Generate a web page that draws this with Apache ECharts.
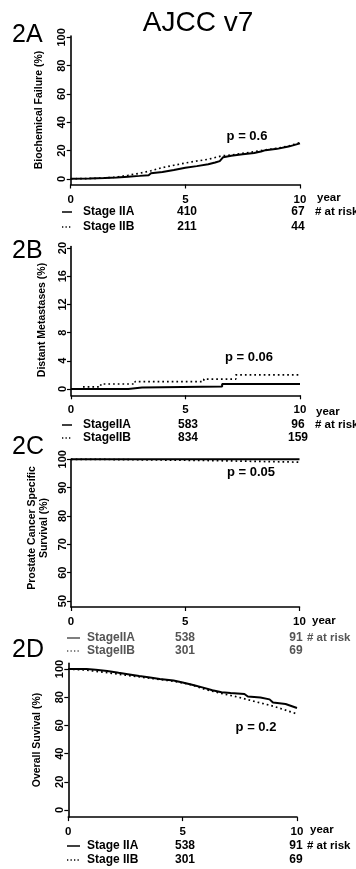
<!DOCTYPE html>
<html><head><meta charset="utf-8">
<script src="https://cdn.jsdelivr.net/npm/echarts@6/dist/echarts.min.js"></script>
<style>html,body{margin:0;padding:0;background:#fff}#c{width:356px;height:869px}</style>
</head><body><div id="c"></div>
<script>
// ---------- data ----------
const xTicks = [0, 5, 10];
const ticksA = [0, 20, 40, 60, 80, 100];
const ticksB = [0, 4, 8, 12, 16, 20];
const ticksC = [50, 60, 70, 80, 90, 100];
const ticksD = [0, 20, 40, 60, 80, 100];

// 2A Biochemical failure (%)
const bcfIIA = [[0,0],[0.8,0.3],[1.5,0.6],[2,0.9],[2.5,1.5],[3,2.1],[3.4,2.6],[3.5,3.9],[4,4.8],[4.5,6.2],[5,7.8],[5.5,9],[6,10.3],[6.3,11.5],[6.5,12.5],[6.65,15.3],[7,16.4],[7.5,17.4],[8,18.3],[8.3,19.3],[8.5,20.3],[9,21.2],[9.5,22.8],[10,25.1]];
const bcfIIB = [[0,0],[1,0.3],[2,1.2],[2.5,2.5],[3,3.9],[3.5,5.7],[4,8],[4.5,9.6],[5,11.2],[5.5,12.6],[6,13.8],[6.4,15.5],[6.6,16.3],[7,16.8],[7.5,18],[8,19.2],[8.5,20.5],[9,21.6],[9.5,23.2],[10,25.6]];
// 2B Distant metastases (%)
const dmIIA = [[0,0],[2.5,0.1],[2.8,0.2],[3.1,0.35],[6.6,0.7],[10,0.7]];
const dmIIB = [[0,0],[0.5,0.3],[1.3,0.7],[2.8,1.05],[5.8,1.4],[7.2,2.0],[10,2.0]];
// 2C Prostate cancer specific survival (%)
const pcssIIA = [[0,100],[10,100]];
const pcssIIB = [[0,100],[0.8,99.6],[5.8,99.0],[10,99.0]];
// 2D Overall survival (%)
const osIIA = [[0,100],[0.8,100],[1.2,99.5],[1.7,98.6],[2.2,97.3],[2.6,96.3],[3.1,95],[3.5,94.2],[4,93],[4.6,91.8],[5,90.5],[5.5,88.5],[5.9,86.8],[6.3,85],[6.7,83.5],[7.1,83],[7.7,82.3],[7.85,80.5],[8.4,79.8],[8.8,78.5],[8.95,76.2],[9.5,75.2],[10,72.4]];
const osIIB = [[0,100],[0.5,99.5],[0.8,99.2],[1.7,97.4],[2.5,95.7],[3.4,93.8],[4.6,91.4],[5.4,88.8],[6,85.5],[6.8,82.3],[7.4,80.2],[8.1,77.2],[9,73.5],[10,68.2]];

// at-risk tables
const riskA_IIA = [410, 67], riskA_IIB = [211, 44];
const riskB_IIA = [583, 96], riskB_IIB = [834, 159];
const riskC_IIA = [538, 91], riskC_IIB = [301, 69];
const riskD_IIA = [538, 91], riskD_IIB = [301, 69];
const stageA = ['Stage IIA', 'Stage IIB'];
const stageB = ['StageIIA', 'StageIIB'];
const stageC = ['StageIIA', 'StageIIB'];
const stageD = ['Stage IIA', 'Stage IIB'];
const pValues = ['p = 0.6', 'p = 0.06', 'p = 0.05', 'p = 0.2'];
const panelLabels = ['2A', '2B', '2C', '2D'];
const yTitles = ['Biochemical Failure (%)', 'Distant Metastases (%)', ['Prostate Cancer Specific', 'Survival (%)'], 'Overall Suvival (%)'];
const mainTitle = 'AJCC v7';

// ---------- chart ----------
const FF = '"Liberation Sans", Arial, sans-serif';
const chart = echarts.init(document.getElementById('c'), null, {renderer: 'canvas'});

const grids = [
  {left: 70.7, top: 36, width: 229.3, height: 148.5},
  {left: 71, top: 246.6, width: 229, height: 148.7},
  {left: 71, top: 459.3, width: 228.5, height: 147.7},
  {left: 68.3, top: 663.4, width: 228.7, height: 153.7}
];
const yRanges = [[-4, 101, ticksA], [-0.9, 20.2, ticksB], [47.9, 100, ticksC], [-5, 104, ticksD]];

const axisLine = {show: true, onZero: false, lineStyle: {color: '#000', width: 1.6}};
const axisTick = {show: true, length: 4, lineStyle: {color: '#000', width: 1.2}};
const labelBase = {color: '#000', fontFamily: FF, fontWeight: 'bold', fontSize: 11};

const xAxis = grids.map((g, i) => ({
  gridIndex: i, type: 'value', min: 0, max: 10, interval: 5,
  axisLine, axisTick: Object.assign({}, axisTick, {customValues: xTicks}),
  axisLabel: Object.assign({}, labelBase, {fontSize: 11.5, margin: 9, customValues: xTicks}),
  splitLine: {show: false}
}));
const yAxis = yRanges.map((r, i) => ({
  gridIndex: i, type: 'value', min: r[0], max: r[1],
  axisLine, axisTick: Object.assign({}, axisTick, {customValues: r[2]}),
  axisLabel: Object.assign({}, labelBase, {rotate: 90, margin: 3, customValues: r[2]}),
  splitLine: {show: false}
}));

function line(data, i, dotted, step) {
  return {
    type: 'line', xAxisIndex: i, yAxisIndex: i, data, step: step ? 'end' : false,
    showSymbol: false, symbol: 'none', clip: false, silent: true, animation: false,
    lineStyle: dotted ? {color: '#000', width: 1.7, type: [1.7, 3.0]} : {color: '#000', width: 2}
  };
}
const series = [
  line(bcfIIA, 0, false, false), line(bcfIIB, 0, true, false),
  line(dmIIA, 1, false, true), line(dmIIB, 1, true, true),
  line(pcssIIB, 2, true, true), line(pcssIIA, 2, false, true),
  line(osIIA, 3, false, false), line(osIIB, 3, true, false)
];

// ---------- text / annotations ----------
const G = [];
function txt(text, x, y, opt) {
  opt = opt || {};
  G.push({
    type: 'text', x, y, rotation: opt.rot || 0, silent: true,
    style: {text, fill: opt.color || '#000', align: opt.align || 'left', verticalAlign: 'middle',
      font: (opt.weight || 'bold') + ' ' + (opt.size || 11) + 'px ' + FF}
  });
}
function seg(x1, x2, y, dotted, color) {
  G.push({type: 'line', silent: true, shape: {x1, y1: y, x2, y2: y},
    style: {stroke: color || '#000', lineWidth: dotted ? 1.3 : 1.5, lineDash: dotted ? [1.3, 2.2] : null}});
}
txt(mainTitle, 198, 23, {weight: 'normal', size: 28, align: 'center'});
const panelY = [35, 251, 447, 650];
panelLabels.forEach((t, i) => txt(t, 12, panelY[i], {weight: 'normal', size: 25}));

// y titles
txt(yTitles[0], 39, 110, {rot: Math.PI / 2, align: 'center', size: 10.5});
txt(yTitles[1], 42, 320, {rot: Math.PI / 2, align: 'center', size: 10.5});
txt(yTitles[2][0], 32, 528, {rot: Math.PI / 2, align: 'center', size: 10.5});
txt(yTitles[2][1], 44, 528, {rot: Math.PI / 2, align: 'center', size: 10.5});
txt(yTitles[3], 37, 740, {rot: Math.PI / 2, align: 'center', size: 10.5});

// p values
txt(pValues[0], 247, 136, {align: 'center', size: 13});
txt(pValues[1], 249, 357, {align: 'center', size: 13});
txt(pValues[2], 251, 472, {align: 'center', size: 13});
txt(pValues[3], 256, 727, {align: 'center', size: 13});

// "year"
txt('year', 317, 198, {size: 11.5});
txt('year', 316, 412, {size: 11.5});
txt('year', 312, 621, {size: 11.5});
txt('year', 310, 830, {size: 11.5});

// at-risk tables
function table(rows, labels, r1, r2, color, lx1, lx2, tx, c5, c10, riskX) {
  seg(lx1, lx2, rows[0], false, color);
  seg(lx1, lx2, rows[1], true, color);
  txt(labels[0], tx, rows[0], {color, size: 12});
  txt(labels[1], tx, rows[1], {color, size: 12});
  txt(String(r1[0]), c5, rows[0], {color, align: 'center', size: 12});
  txt(String(r2[0]), c5, rows[1], {color, align: 'center', size: 12});
  txt(String(r1[1]), c10, rows[0], {color, align: 'center', size: 12});
  txt(String(r2[1]), c10, rows[1], {color, align: 'center', size: 12});
  txt('# at risk', riskX, rows[0], {color, size: 11.5});
}
table([212, 227], stageA, riskA_IIA, riskA_IIB, '#000', 62, 72, 83, 187, 298, 315);
table([425, 438], stageB, riskB_IIA, riskB_IIB, '#000', 62, 72, 83, 188, 298, 315);
table([638, 651], stageC, riskC_IIA, riskC_IIB, '#555', 67, 80, 87, 185, 296, 307);
table([846, 860], stageD, riskD_IIA, riskD_IIB, '#000', 67, 80, 87, 185, 296, 307);

chart.setOption({
  animation: false,
  backgroundColor: '#fff',
  grid: grids.map(g => Object.assign({containLabel: false}, g)),
  xAxis, yAxis, series, graphic: G
});
</script></body></html>
